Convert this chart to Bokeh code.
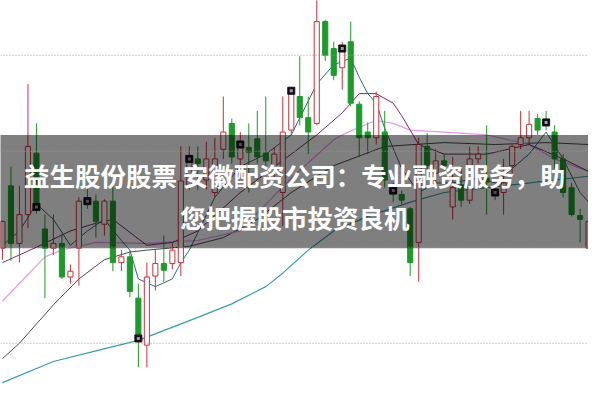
from bokeh.plotting import figure
from bokeh.models import Range1d, ColumnDataSource, Span
from bokeh.embed import file_html
from bokeh.resources import INLINE
from bokeh.core.properties import value

# ---- candle data (index = trading day) ----
opens = [10.99, 11.64, 11.04, 11.34, 11.98, 11.19, 10.99, 11.04, 10.69, 10.99,
         11.48, 11.48, 11.24, 11.48, 10.84, 10.90, 10.47, 9.98, 10.70, 10.83,
         10.83, 10.84, 11.64, 11.92, 11.70, 11.57, 12.02, 12.29, 11.92, 12.04,
         12.13, 11.98, 11.82, 11.57, 12.22, 12.57, 12.35, 12.29, 13.35, 13.07,
         12.87, 13.14, 12.49, 12.20, 12.14, 12.20, 11.61, 11.55, 11.40, 11.05,
         12.05, 11.77, 11.90, 11.42, 11.65, 11.49, 11.92, 11.72, 11.58, 11.57,
         11.85, 12.07, 12.14, 12.34, 12.30, 12.20, 11.92, 11.62, 11.33, 10.99]
highs = [11.27, 11.84, 11.64, 12.70, 12.29, 11.34, 11.34, 11.14, 10.82, 11.52,
         11.65, 11.55, 11.50, 11.65, 10.97, 10.97, 10.62, 10.84, 10.97, 11.12,
         11.04, 12.05, 12.05, 12.05, 12.10, 12.14, 12.57, 12.34, 12.20, 12.29,
         12.42, 12.57, 12.04, 12.57, 12.67, 12.99, 12.57, 13.60, 13.37, 13.14,
         13.14, 13.35, 12.52, 12.30, 12.62, 12.42, 11.67, 11.59, 11.42, 12.14,
         12.19, 12.02, 11.97, 11.94, 11.84, 12.05, 12.05, 12.27, 11.65, 11.92,
         12.07, 12.42, 12.42, 12.39, 12.42, 12.27, 11.97, 11.67, 11.40, 11.40]
lows = [10.87, 10.86, 10.84, 11.20, 11.35, 10.47, 10.92, 10.67, 10.62, 10.60,
        11.40, 11.10, 11.12, 10.75, 10.75, 10.48, 9.75, 9.75, 10.55, 10.64,
        10.77, 10.70, 11.60, 11.60, 11.60, 11.52, 11.92, 11.87, 11.82, 11.57,
        11.87, 11.82, 11.72, 11.22, 12.17, 12.27, 11.97, 12.27, 12.94, 12.74,
        12.64, 12.47, 11.94, 11.97, 12.07, 11.62, 11.47, 11.45, 10.70, 10.64,
        11.77, 11.67, 11.77, 11.29, 11.42, 11.45, 11.87, 11.34, 11.49, 11.34,
        11.77, 12.02, 12.07, 12.17, 12.22, 11.82, 11.52, 11.32, 11.05, 10.97]
closes = [11.27, 11.04, 11.34, 12.05, 11.42, 10.99, 11.04, 10.69, 10.75, 11.48,
          11.46, 11.27, 11.48, 10.84, 10.90, 10.54, 10.04, 10.69, 10.83, 10.76,
          10.97, 11.69, 11.90, 11.87, 11.92, 11.92, 12.20, 11.94, 12.05, 11.99,
          11.94, 11.90, 11.97, 12.20, 12.60, 12.35, 12.20, 13.35, 13.00, 12.79,
          13.04, 12.50, 12.14, 12.14, 12.57, 11.70, 11.58, 11.49, 10.84, 12.07,
          11.85, 11.90, 11.85, 11.62, 11.49, 11.92, 11.97, 11.68, 11.55, 11.67,
          12.05, 12.14, 12.28, 12.22, 12.27, 11.92, 11.57, 11.34, 11.29, 11.27]

# signal markers
marker_idx = [4, 10, 16, 22, 28, 34, 40, 46, 58, 64]
marker_val = [11.42, 11.48, 10.05, 11.92, 12.07, 12.63, 13.07, 11.59, 11.57, 12.30]

# moving averages
ma5_idx = [0, 2, 4, 6, 8, 10, 12, 14, 15, 16, 18, 20, 21, 22, 25, 28, 31, 34, 37, 39,
           41, 42, 43, 44, 45, 47, 49, 51, 53, 56, 58, 60, 62, 64, 66, 68, 69]
ma5_val = [11.02, 11.17, 11.45, 11.29, 11.02, 11.17, 11.29, 11.07, 10.97, 10.67,
           10.59, 10.67, 10.84, 10.97, 11.52, 11.84, 11.97, 12.17, 12.70, 12.90,
           12.97, 12.77, 12.60, 12.50, 12.24, 11.82, 11.57, 11.67, 11.67, 11.72,
           11.67, 11.82, 11.97, 12.20, 11.92, 11.57, 11.47]
ma10_idx = [0, 4, 8, 11, 13, 17, 20, 23, 28, 34, 37, 40, 42, 44, 46, 47, 49, 52, 57, 62, 66, 69]
ma10_val = [10.84, 11.00, 11.17, 11.25, 11.29, 11.02, 11.05, 11.17, 11.57, 11.97,
            12.17, 12.40, 12.60, 12.60, 12.50, 12.37, 12.07, 11.97, 11.97, 12.07, 11.92, 11.79]
ma20_idx = [0, 5, 7, 11, 17, 23, 28, 34, 39, 40, 42, 44, 46, 48, 52, 57, 62, 65, 69]
ma20_val = [10.44, 10.90, 10.97, 11.05, 11.04, 11.07, 11.17, 11.72, 12.12, 12.17,
            12.25, 12.32, 12.29, 12.22, 12.20, 12.17, 12.07, 11.92, 11.79]
ma30_idx = [0, 2, 6, 9, 12, 15, 17, 22, 26, 30, 34, 39, 45, 52, 58, 64, 69]
ma30_val = [9.84, 10.00, 10.40, 10.67, 10.87, 10.95, 10.97, 11.01, 11.10, 11.29,
            11.57, 11.85, 12.05, 12.09, 12.07, 12.09, 12.07]
ma60_idx = [0, 6, 11, 16, 23, 27, 31, 33, 36, 39, 43, 48, 52, 57, 64, 69]
ma60_val = [9.59, 9.81, 9.92, 10.03, 10.27, 10.41, 10.59, 10.73, 10.97, 11.17,
            11.32, 11.47, 11.57, 11.62, 11.69, 11.74]

grid_levels = [13.0, 12.0, 11.0, 10.0]
title_lines = ["益生股份股票 安徽配资公司：专业融资服务，助", "您把握股市投资良机"]

RED = "#d0303c"
GREEN = "#1f9a2c"

n = len(opens)
idx = list(range(n))
up = [c >= o for o, c in zip(opens, closes)]

def pick(seq, flags):
    return [v for v, f in zip(seq, flags) if f]

down = [not u for u in up]
src_up = ColumnDataSource(dict(x=pick(idx, up), o=pick(opens, up), c=pick(closes, up),
                               h=pick(highs, up), l=pick(lows, up)))
src_dn = ColumnDataSource(dict(x=pick(idx, down), o=pick(opens, down), c=pick(closes, down),
                               h=pick(highs, down), l=pick(lows, down)))

p = figure(width=588, height=385, x_range=Range1d(-0.23, 68.99), y_range=Range1d(9.56, 13.57),
           output_backend="svg", toolbar_location=None, min_border=0,
           x_axis_type=None, y_axis_type=None)
p.grid.visible = False
p.outline_line_color = None
p.background_fill_color = "white"

for lv in grid_levels:
    p.add_layout(Span(location=lv, dimension="width", line_color="#9a9a9a",
                      line_dash="1 2", line_width=1))

# moving average lines
p.line(ma60_idx, ma60_val, line_color="#3a9da5", line_width=1.2)
p.line(ma30_idx, ma30_val, line_color="#4a4a4a", line_width=1)
p.line(ma20_idx, ma20_val, line_color="#e89ae8", line_width=1.2)
p.line(ma10_idx, ma10_val, line_color="#7a2a6e", line_width=1)
p.line(ma5_idx, ma5_val, line_color="#2e6b78", line_width=1)

# candles
p.segment("x", "h", "x", "l", source=src_up, line_color=RED, line_width=1)
p.segment("x", "h", "x", "l", source=src_dn, line_color=GREEN, line_width=1)
p.vbar(x="x", bottom="o", top="c", width=0.6, source=src_up, fill_color="white",
       line_color=RED, line_width=1)
p.vbar(x="x", bottom="c", top="o", width=0.6, source=src_dn, fill_color=GREEN,
       line_color=GREEN, line_width=1)

# markers
p.rect(marker_idx, marker_val, width=7, height=7, width_units="screen", height_units="screen",
       fill_color="#111111", line_color="#111111")
p.rect(marker_idx, marker_val, width=3, height=3, width_units="screen", height_units="screen",
       fill_color="#b48ad0", line_color=None)

# banner overlay
p.quad(left=-2, right=71, bottom=10.99, top=12.17, fill_color="black", fill_alpha=0.5,
       line_color=None)
p.text(x=[34.4, 34.4], y=[11.76, 11.32], text=title_lines, text_align="center",
       text_baseline="middle", text_color="white", text_font=value("Noto Sans CJK SC"),
       text_font_style="bold", text_font_size="25.5px")

open("out.html", "w").write(file_html(p, INLINE))
